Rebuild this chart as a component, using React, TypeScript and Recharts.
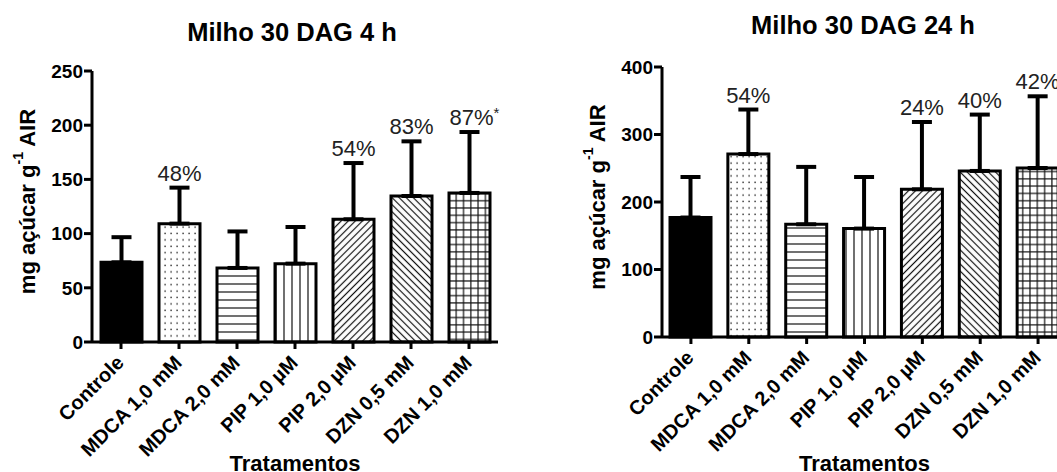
import React from "react";
import { BarChart, Bar, XAxis, YAxis, ErrorBar, Cell, LabelList, Label } from "recharts";

const categories = ["Controle", "MDCA 1,0 mM", "MDCA 2,0 mM", "PIP 1,0 µM", "PIP 2,0 µM", "DZN 0,5 mM", "DZN 1,0 mM"];

const means4h = [73.5, 109.2, 68.3, 72.3, 113.2, 134.7, 137.5];
const errs4h = [23.2, 33.2, 33.7, 33.8, 51.9, 50.4, 56.2];
const labels4h = ["", "48%", "", "", "54%", "83%", "87%*"];
const ticks4h = [0, 50, 100, 150, 200, 250];

const means24h = [177, 271, 167, 160.6, 218.8, 246, 250.4];
const errs24h = [60, 66, 85, 76.4, 99.7, 83.5, 106.2];
const labels24h = ["", "54%", "", "", "24%", "40%", "42%"];
const ticks24h = [0, 100, 200, 300, 400];

const FONT = "'Liberation Sans', Arial, Helvetica, sans-serif";
const patternKeys = ["solid", "dots", "hlines", "vlines", "diagUp", "diagDown", "grid"];

function Patterns({ prefix }: { prefix: string }) {
  const sw = 1.2;
  return (
    <defs>
      <pattern id={`${prefix}-dots`} patternUnits="userSpaceOnUse" width={6} height={6.4}>
        <rect width={6} height={6.4} fill="#fff" />
        <rect x={2.4} y={2.4} width={1.4} height={1.4} fill="#222" />
      </pattern>
      <pattern id={`${prefix}-hlines`} patternUnits="userSpaceOnUse" width={8} height={8}>
        <rect width={8} height={8} fill="#fff" />
        <line x1={0} y1={4} x2={8} y2={4} stroke="#111" strokeWidth={sw} />
      </pattern>
      <pattern id={`${prefix}-vlines`} patternUnits="userSpaceOnUse" width={8} height={8}>
        <rect width={8} height={8} fill="#fff" />
        <line x1={4} y1={0} x2={4} y2={8} stroke="#111" strokeWidth={sw} />
      </pattern>
      <pattern id={`${prefix}-diagUp`} patternUnits="userSpaceOnUse" width={5} height={5} patternTransform="rotate(45)">
        <rect width={5} height={5} fill="#fff" />
        <line x1={2.5} y1={0} x2={2.5} y2={5} stroke="#111" strokeWidth={sw} />
      </pattern>
      <pattern id={`${prefix}-diagDown`} patternUnits="userSpaceOnUse" width={5} height={5} patternTransform="rotate(-45)">
        <rect width={5} height={5} fill="#fff" />
        <line x1={2.5} y1={0} x2={2.5} y2={5} stroke="#111" strokeWidth={sw} />
      </pattern>
      <pattern id={`${prefix}-grid`} patternUnits="userSpaceOnUse" width={7.3} height={7.3}>
        <rect width={7.3} height={7.3} fill="#fff" />
        <line x1={3.6} y1={0} x2={3.6} y2={7.3} stroke="#111" strokeWidth={sw} />
        <line x1={0} y1={3.6} x2={7.3} y2={3.6} stroke="#111" strokeWidth={sw} />
      </pattern>
    </defs>
  );
}

function XTick(props: any) {
  const { x, y, payload } = props;
  const ax = x + 4;
  const ay = y + 13;
  return (
    <text
      x={ax}
      y={ay}
      transform={`rotate(-45, ${ax}, ${ay})`}
      textAnchor="end"
      fontFamily={FONT}
      fontWeight="bold"
      fontSize={20}
      fill="#000"
    >
      {payload.value}
    </text>
  );
}

function makePctLabel(labels: string[], errs: number[]) {
  return (props: any) => {
    const { x, y, width, height, value, index } = props;
    const txt = labels[index];
    if (!txt) return null;
    const errTop = y - errs[index] * (height / value);
    const cx = x + width / 2;
    const star = txt.endsWith("*");
    const main = star ? txt.slice(0, -1) : txt;
    return (
      <text
        x={star ? cx + 5 : cx}
        y={errTop - 7}
        textAnchor="middle"
        fontFamily={FONT}
        fontSize={22}
        fill="#222"
      >
        {main}
        {star ? (
          <tspan fontSize={15} dy={-7}>
            *
          </tspan>
        ) : null}
      </text>
    );
  };
}

function YTitle(props: any) {
  const { viewBox } = props;
  const cx = viewBox.x + viewBox.width - 65;
  const cy = viewBox.y + viewBox.height / 2 - 5;
  return (
    <text
      x={cx}
      y={cy}
      transform={`rotate(-90, ${cx}, ${cy})`}
      textAnchor="middle"
      dominantBaseline="central"
      fontFamily={FONT}
      fontWeight="bold"
      fontSize={22}
      fill="#000"
    >
      mg açúcar g
      <tspan fontSize={14} dy={-9}>-1</tspan>
      <tspan dy={9}> AIR</tspan>
    </text>
  );
}

function XTitle(props: any) {
  const { viewBox } = props;
  const cx = viewBox.x + viewBox.width / 2;
  return (
    <text
      x={cx}
      y={471}
      textAnchor="middle"
      fontFamily={FONT}
      fontWeight="bold"
      fontSize={22}
      fill="#000"
    >
      Tratamentos
    </text>
  );
}

function Panel({
  prefix,
  means,
  errs,
  labels,
  ticks,
  width,
  margin,
}: {
  prefix: string;
  means: number[];
  errs: number[];
  labels: string[];
  ticks: number[];
  width: number;
  margin: any;
}) {
  const data = categories.map((c, i) => ({ name: c, mean: means[i], err: [0, errs[i]] }));
  const axisStroke = { stroke: "#000", strokeWidth: 3 };
  return (
    <BarChart width={width} height={472} data={data} margin={margin} barSize={41}>
      <Patterns prefix={prefix} />
      <XAxis
        dataKey="name"
        interval={0}
        tick={<XTick />}
        tickSize={7}
        tickLine={axisStroke}
        axisLine={axisStroke}
        height={120}
      >
        <Label content={<XTitle />} />
      </XAxis>
      <YAxis
        domain={[ticks[0], ticks[ticks.length - 1]]}
        ticks={ticks}
        interval={0}
        width={60}
        tickSize={8}
        tickMargin={1}
        tickLine={axisStroke}
        axisLine={axisStroke}
        tick={{ fill: "#000", fontFamily: FONT, fontWeight: "bold", fontSize: 19 }}
      >
        <Label content={<YTitle />} />
      </YAxis>
      <Bar dataKey="mean" stroke="#000" strokeWidth={3} isAnimationActive={false}>
        {data.map((d, i) => (
          <Cell
            key={d.name}
            fill={patternKeys[i] === "solid" ? "#000" : `url(#${prefix}-${patternKeys[i]})`}
          />
        ))}
        <ErrorBar dataKey="err" width={10} strokeWidth={4} stroke="#000" direction="y" isAnimationActive={false} />
        <LabelList dataKey="mean" content={makePctLabel(labels, errs)} />
      </Bar>
    </BarChart>
  );
}

export default function App() {
  return (
    <div
      style={{
        position: "absolute",
        left: 0,
        top: 0,
        width: 1057,
        height: 472,
        overflow: "hidden",
        background: "#fff",
      }}
    >
      <div style={{ position: "absolute", left: 0, top: 0 }}>
        <Panel
          prefix="p4"
          means={means4h}
          errs={errs4h}
          labels={labels4h}
          ticks={ticks4h}
          width={530}
          margin={{ top: 71, right: 32, bottom: 10, left: 32 }}
        />
      </div>
      <div style={{ position: "absolute", left: 530, top: 0 }}>
        <Panel
          prefix="p24"
          means={means24h}
          errs={errs24h}
          labels={labels24h}
          ticks={ticks24h}
          width={560}
          margin={{ top: 67, right: 23, bottom: 15, left: 72 }}
        />
      </div>
      <div
        style={{
          position: "absolute",
          left: 92,
          width: 400,
          top: 17,
          textAlign: "center",
          fontFamily: FONT,
          fontWeight: "bold",
          fontSize: 25.5,
          lineHeight: "30px",
        }}
      >
        Milho 30 DAG 4 h
      </div>
      <div
        style={{
          position: "absolute",
          left: 663,
          width: 400,
          top: 10,
          textAlign: "center",
          fontFamily: FONT,
          fontWeight: "bold",
          fontSize: 25.5,
          lineHeight: "30px",
        }}
      >
        Milho 30 DAG 24 h
      </div>
    </div>
  );
}
